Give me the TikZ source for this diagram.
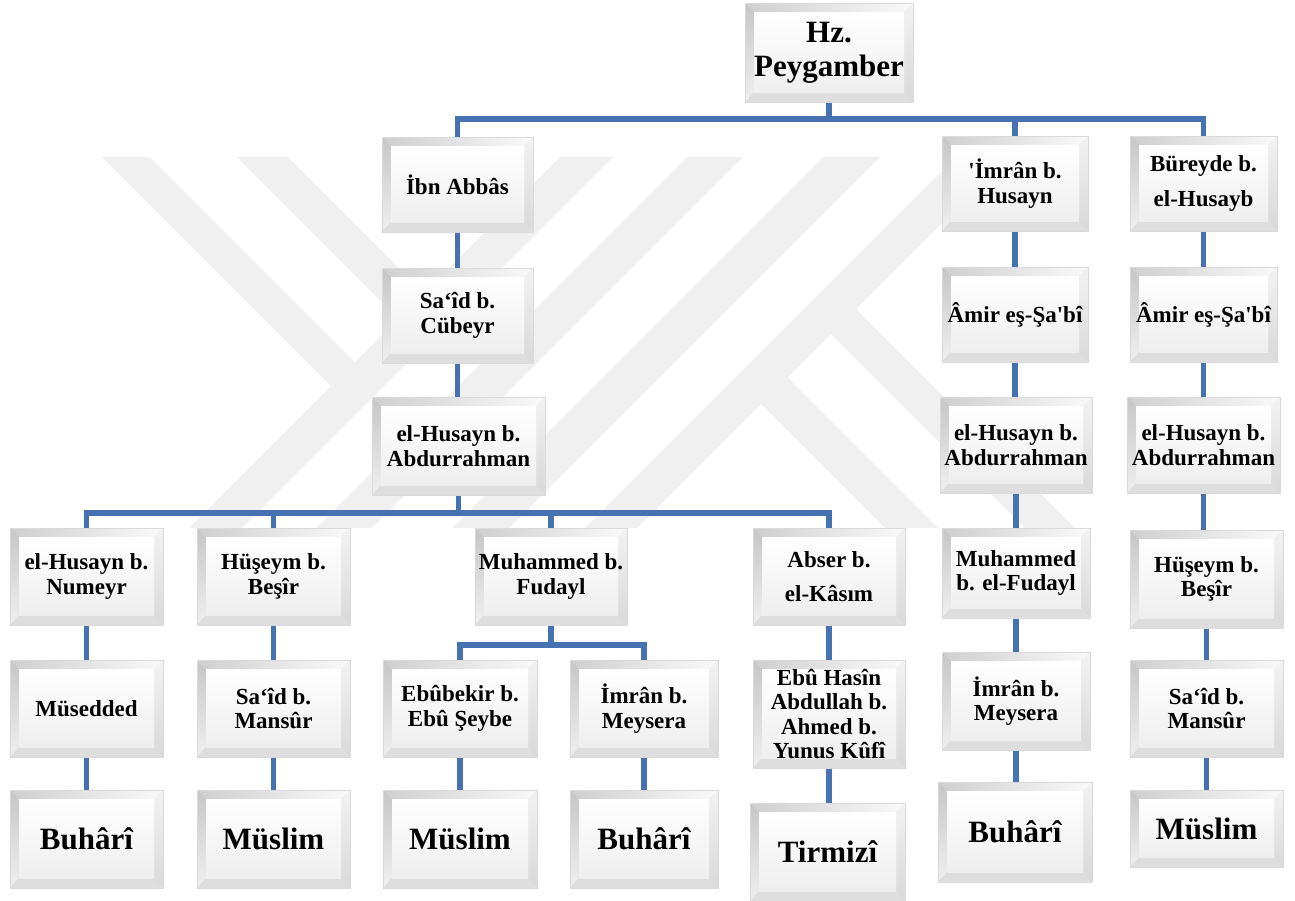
\documentclass[tikz,border=0pt]{standalone}
\usepackage{fontspec}
\setmainfont{Liberation Serif}
\definecolor{wm}{RGB}{240,240,240}
\definecolor{conn}{RGB}{70,114,178}
\definecolor{bvline}{RGB}{218,218,222}
\newcommand\BX[7]{\node[bev,font=#6,minimum width={(#4-#2)*1pt},minimum height={(#5-#3)*1pt}] (#1) at ({(#2+#4)/2},{(#3+#5)/2}) {#7};}
\tikzset{
  bev/.style={rectangle, inner sep=0pt, align=center, draw=bvline, line width=1pt, text=black,
    path picture={
      \coordinate (bvsw) at (path picture bounding box.south west);
      \coordinate (bvne) at (path picture bounding box.north east);
      \coordinate (bvnw) at (path picture bounding box.north west);
      \coordinate (bvse) at (path picture bounding box.south east);
      \fill[gray!22] (bvsw) rectangle (bvne);
      \shade[left color=gray!38, right color=gray!4]
        (bvnw) -- (bvne) -- ([xshift=-9pt,yshift=-9pt]bvne) -- ([xshift=9pt,yshift=-9pt]bvnw) -- cycle;
      \shade[top color=gray!45, bottom color=gray!12]
        (bvnw) -- ([xshift=9pt,yshift=-9pt]bvnw) -- ([xshift=9pt,yshift=10pt]bvsw) -- (bvsw) -- cycle;
      \shade[top color=gray!10, bottom color=gray!30]
        (bvne) -- (bvse) -- ([xshift=-9pt,yshift=10pt]bvse) -- ([xshift=-9pt,yshift=-9pt]bvne) -- cycle;
      \fill[gray!26]
        (bvsw) -- (bvse) -- ([xshift=-9pt,yshift=10pt]bvse) -- ([xshift=9pt,yshift=10pt]bvsw) -- cycle;
      \shade[top color=white, bottom color=gray!13]
        ([xshift=9pt,yshift=-9pt]bvnw) rectangle ([xshift=-9pt,yshift=10pt]bvse);
    }},
  cn/.style={draw=conn, line width=5.5pt},
}
\newcommand\nf{\bfseries\fontsize{23}{24.5}\selectfont}
\newcommand\bigf{\bfseries\fontsize{31}{34}\selectfont}
\begin{document}
\begin{tikzpicture}[x=1pt,y=-1pt]
\useasboundingbox[fill=white] (0,0) rectangle (1295,900);
% watermark
\begin{scope}[fill=wm]
\fill (102,157) -- (150,157) -- (355,362) -- (331,386) -- cycle;
\fill (237,157) -- (288,157) -- (424,293) -- (398.5,318.5) -- cycle;
\fill (560,157) -- (613,157) -- (242,528) -- (189,528) -- cycle;
\fill (687,157) -- (743,157) -- (372,528) -- (316,528) -- cycle;
\fill (823,157) -- (880,157) -- (509,528) -- (452,528) -- cycle;
\fill (956,157) -- (1008,157) -- (637,528) -- (585,528) -- cycle;
\fill (856,309) -- (1075,528) -- (1025,528) -- (831,334) -- cycle;
\fill (787.5,377.5) -- (938,528) -- (885,528) -- (761,404) -- cycle;
\end{scope}
% boxes
\BX{peyg}{745}{3}{913}{102}{\bigf}{Hz.\\Peygamber}
\BX{ibn}{382}{137}{533}{232}{\nf}{İbn Abbâs}
\BX{imr}{942}{136}{1088}{231}{\nf}{\textquotesingle İmrân b.\\Husayn}
\BX{bur}{1130}{136}{1277}{231}{\nf}{Büreyde b.\\[10pt]el-Husayb}
\BX{said}{382}{268}{533}{363}{\nf}{Sa‘îd b.\\Cübeyr}
\BX{amirA}{942}{267}{1088}{362}{\nf}{Âmir eş-Şa\textquotesingle bî}
\BX{amirB}{1130}{267}{1277}{362}{\nf}{Âmir eş-Şa\textquotesingle bî}
\BX{husM}{372}{397}{545}{495}{\nf}{el-Husayn b.\\Abdurrahman}
\BX{husA}{940}{397}{1092}{493}{\nf}{el-Husayn b.\\Abdurrahman}
\BX{husB}{1127}{397}{1280}{493}{\nf}{el-Husayn b.\\Abdurrahman}
\BX{num}{10}{528}{163}{625}{\nf}{el-Husayn b.\\Numeyr}
\BX{hueA}{197}{528}{350}{625}{\nf}{Hüşeym b.\\Beşîr}
\BX{muh}{475}{528}{627}{625}{\nf}{Muhammed b.\\Fudayl}
\BX{abs}{753}{528}{905}{625}{\nf}{Abser b.\\[9pt]el-Kâsım}
\BX{muhR}{942}{528}{1090}{618}{\nf}{Muhammed\\b. el-Fudayl}
\BX{hueB}{1130}{530}{1283}{628}{\nf}{Hüşeym b.\\Beşîr}
\BX{mus}{10}{660}{163}{757}{\nf}{Müsedded}
\BX{smA}{197}{660}{350}{757}{\nf}{Sa‘îd b.\\Mansûr}
\BX{ebb}{383}{660}{537}{757}{\nf}{Ebûbekir b.\\Ebû Şeybe}
\BX{imA}{570}{660}{718}{757}{\nf}{İmrân b.\\Meysera}
\BX{ebh}{753}{660}{905}{768}{\nf}{Ebû Hasîn\\Abdullah b.\\Ahmed b.\\Yunus Kûfî}
\BX{imB}{942}{652}{1090}{750}{\nf}{İmrân b.\\Meysera}
\BX{smB}{1130}{660}{1283}{757}{\nf}{Sa‘îd b.\\Mansûr}
\BX{rA}{10}{790}{163}{888}{\bigf}{Buhârî}
\BX{rB}{197}{790}{350}{888}{\bigf}{Müslim}
\BX{rC}{383}{790}{537}{888}{\bigf}{Müslim}
\BX{rD}{570}{790}{718}{888}{\bigf}{Buhârî}
\BX{rE}{750}{803}{905}{901}{\bigf}{Tirmizî}
\BX{rF}{938}{782}{1092}{882}{\bigf}{Buhârî}
\BX{rG}{1130}{790}{1283}{867}{\bigf}{Müslim}
% buses
\coordinate (busA) at (0,119);
\coordinate (busB) at (0,513);
\coordinate (busC) at (0,645);
\draw[cn] (peyg.south) -- (peyg.south|-busA) -| (ibn.north);
\draw[cn] (peyg.south|-busA) -| (imr.north);
\draw[cn] (peyg.south|-busA) -| (bur.north);
\draw[cn] (husM.south) -- (husM.south|-busB) -| (num.north);
\draw[cn] (husM.south|-busB) -| (hueA.north);
\draw[cn] (husM.south|-busB) -| (muh.north);
\draw[cn] (husM.south|-busB) -| (abs.north);
\draw[cn] (muh.south) -- (muh.south|-busC) -| (ebb.north);
\draw[cn] (muh.south|-busC) -| (imA.north);
% chains
\foreach \a/\b in {ibn/said, said/husM, imr/amirA, amirA/husA, husA/muhR, muhR/imB, imB/rF,
  bur/amirB, amirB/husB, husB/hueB, hueB/smB, smB/rG, num/mus, mus/rA, hueA/smA, smA/rB,
  ebb/rC, imA/rD, abs/ebh, ebh/rE}
  \draw[cn] (\a.south) -- (\a.south|-\b.north);
\end{tikzpicture}
\end{document}
